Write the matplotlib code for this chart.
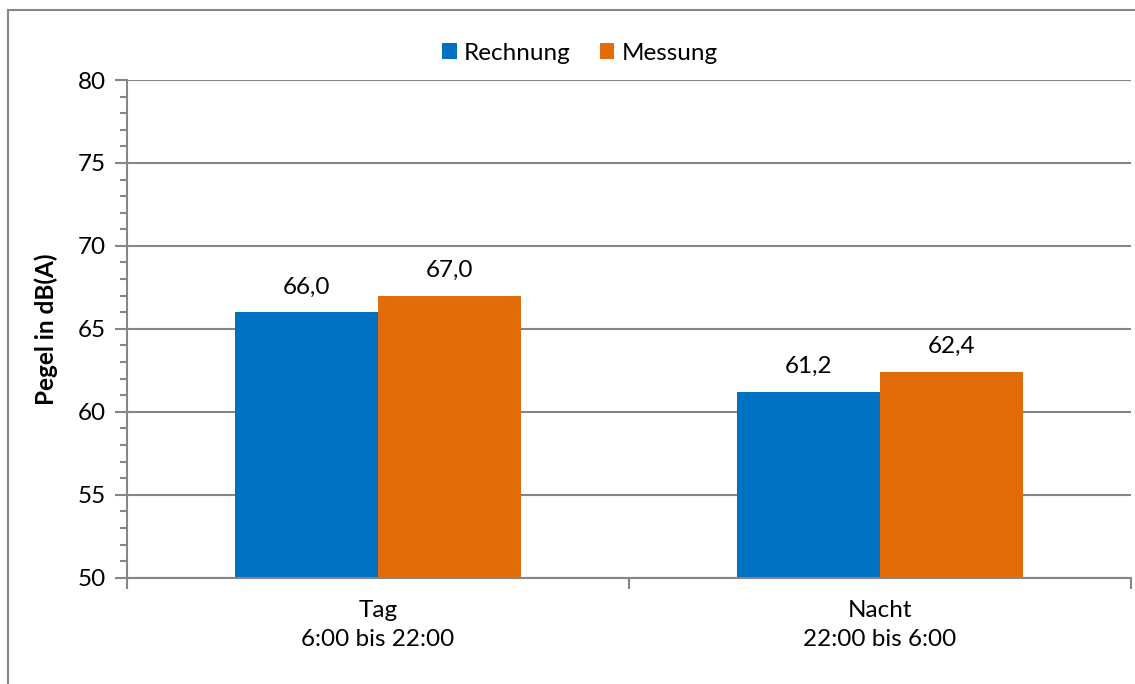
import matplotlib
matplotlib.use("Agg")
import matplotlib.pyplot as plt
import numpy as np
from matplotlib.patches import Rectangle
from matplotlib.ticker import MultipleLocator

categories = ["Tag\n6:00 bis 22:00", "Nacht\n22:00 bis 6:00"]
series_names = ["Rechnung", "Messung"]
rechnung = [66.0, 61.2]
messung = [67.0, 62.4]
colors = ["#0070C0", "#E36C0A"]

plt.rcParams["font.family"] = ["Lato", "DejaVu Sans"]
W, H, DPI = 1135, 684, 100
fig = plt.figure(figsize=(W / DPI, H / DPI), dpi=DPI)

grey = "#868686"
fs = 17.5

# chart frame (extends past the right and bottom edges)
fig.patches.append(Rectangle((8 / W, -0.1), 1.2, 1 - 10 / H + 0.1,
                             transform=fig.transFigure, fill=False,
                             edgecolor=grey, linewidth=1.5))

ax = fig.add_axes([127 / W, 1 - 577.7 / H, (1131 - 127) / W, (577.7 - 80) / H])

x = np.arange(len(categories))
bw = 1 / 3.5
values = [rechnung, messung]
for i, (name, vals, c) in enumerate(zip(series_names, values, colors)):
    pos = x + (i - 0.5) * bw
    ax.bar(pos, vals, width=bw, color=c, label=name, zorder=3, linewidth=0)
    for p, v in zip(pos, vals):
        ax.annotate(f"{v:.1f}".replace(".", ","), (p, v), xytext=(0, 13.5),
                    textcoords="offset points", ha="center", va="baseline",
                    fontsize=fs, color="black")

ax.set_xlim(-0.5, 1.5)
ax.set_ylim(50, 80)
ax.yaxis.set_major_locator(MultipleLocator(5))
ax.yaxis.set_minor_locator(MultipleLocator(1))
ax.set_xticks([-0.5, 0.5, 1.5])
ax.set_xticklabels([])
ax.set_xticks(x, minor=True)
ax.set_xticklabels(categories, minor=True, fontsize=fs, linespacing=1.45)

ax.tick_params(axis="y", which="major", direction="out", length=9, width=1.5,
               color=grey, labelsize=fs, pad=6)
ax.tick_params(axis="y", which="minor", direction="out", length=5, width=1.5, color=grey)
ax.tick_params(axis="x", which="major", direction="out", length=8, width=1.5, color=grey)
ax.tick_params(axis="x", which="minor", length=0, pad=16)

ax.grid(axis="y", which="major", color=grey, linewidth=1.5, zorder=0)
for s in ["top", "right"]:
    ax.spines[s].set_visible(False)
for s in ["left", "bottom"]:
    ax.spines[s].set_color(grey)
    ax.spines[s].set_linewidth(1.5)
    ax.spines[s].set_zorder(4)

ax.set_ylabel("Pegel in dB(A)", fontsize=fs, fontweight="bold", labelpad=14)

fig.legend(loc="center", bbox_to_anchor=(580 / W, 1 - 53 / H), ncol=2,
           frameon=False, fontsize=fs, handlelength=0.6, handleheight=0.6,
           handletextpad=0.3, columnspacing=1.2)

fig.savefig("out.png", dpi=DPI)
